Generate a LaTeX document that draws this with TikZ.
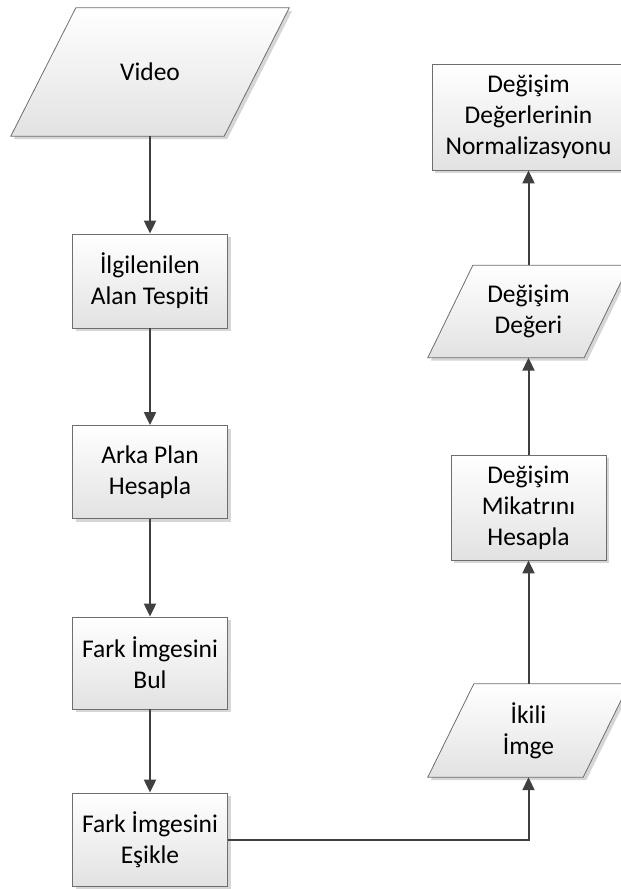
\documentclass[tikz,border=0pt]{standalone}
\usepackage{fontspec}
\setmainfont{Carlito}
\usetikzlibrary{arrows.meta,shadows,backgrounds,calc}
\definecolor{edgec}{HTML}{6E6E6E}
\definecolor{arrc}{HTML}{404040}
\definecolor{fillb}{HTML}{E2E2E2}
\definecolor{shadc}{HTML}{D6D6D6}
\tikzset{
  every node/.style={font=\fontsize{25.5}{31}\selectfont, align=center, inner sep=0pt},
  procbox/.style={draw=edgec, line width=0.8pt, top color=white, bottom color=fillb,
    drop shadow={shadow xshift=3pt, shadow yshift=-3pt, fill=shadc, opacity=1}},
  iotext/.style={},
  arr/.style={draw=arrc, line width=2pt, -{Triangle[length=13pt,width=12pt]}},
}
\newcommand\ioshape[2]{%
  \begin{pgfonlayer}{background}
    \fill[shadc] ($(#1.south west)+(-#2/2+3,3)$) -- ($(#1.south east)+(-#2/2+3,3)$)
      -- ($(#1.north east)+(#2/2+3,3)$) -- ($(#1.north west)+(#2/2+3,3)$) -- cycle;
    \shade[top color=white, bottom color=fillb, draw=edgec, line width=0.8pt]
      ($(#1.south west)+(-#2/2,0)$) -- ($(#1.south east)+(-#2/2,0)$)
      -- ($(#1.north east)+(#2/2,0)$) -- ($(#1.north west)+(#2/2,0)$) -- cycle;
  \end{pgfonlayer}}
\begin{document}
\begin{tikzpicture}[x=1pt,y=-1pt]
\path[use as bounding box, clip] (0,0) rectangle (621,889);
% left column
\node[iotext, minimum width=213, minimum height=128] (video) at (150,72) {Video};
\ioshape{video}{65}
\node[procbox, minimum width=155, minimum height=94] (b1) at (150,281) {İlgilenilen\\Alan Tespiti};
\node[procbox, minimum width=155, minimum height=93] (b2) at (150,472) {Arka Plan\\Hesapla};
\node[procbox, minimum width=155, minimum height=92] (b3) at (150,663) {Fark İmgesini\\Bul};
\node[procbox, minimum width=155, minimum height=93] (b4) at (150,839.5) {Fark İmgesini\\Eşikle};
% right column
\node[procbox, minimum width=193, minimum height=106] (norm) at (528.5,117) {Değişim\\Değerlerinin\\Normalizasyonu};
\node[iotext, minimum width=156, minimum height=92] (deger) at (528.5,311.5) {Değişim\\Değeri};
\ioshape{deger}{45}
\node[procbox, minimum width=155, minimum height=105] (mik) at (528.5,507.5) {Değişim\\Mikatrını\\Hesapla};
\node[iotext, minimum width=155, minimum height=93] (ikili) at (528.5,730.5) {İkili\\İmge};
\ioshape{ikili}{46}
% connectors
\draw[arr] (video.south) -- (b1.north);
\draw[arr] (b1.south) -- (b2.north);
\draw[arr] (b2.south) -- (b3.north);
\draw[arr] (b3.south) -- (b4.north);
\draw[arr] (b4.east) -| (ikili.south);
\draw[arr] (ikili.north) -- (mik.south);
\draw[arr] (mik.north) -- (deger.south);
\draw[arr] (deger.north) -- (norm.south);
\end{tikzpicture}
\end{document}
